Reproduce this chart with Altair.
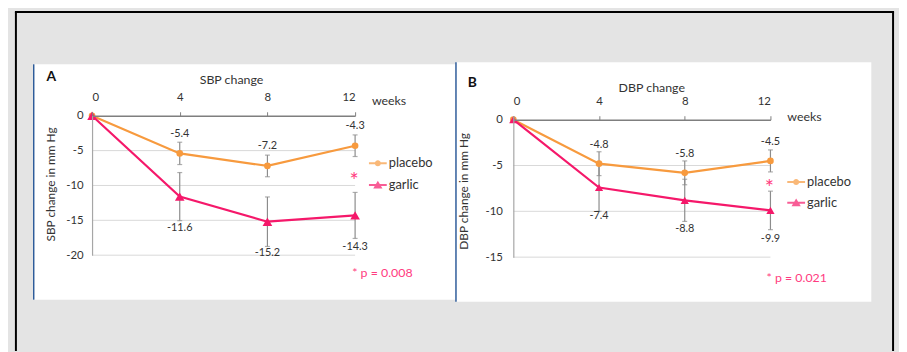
import altair as alt
import pandas as pd

# ---------------- data ----------------
weeks = [0, 4, 8, 12]
series_names = ["placebo", "garlic"]

sbp_placebo = [0, -5.4, -7.2, -4.3]
sbp_placebo_err = [0, 1.6, 1.55, 1.55]
sbp_garlic = [0, -11.6, -15.2, -14.3]
sbp_garlic_err = [0, 3.45, 3.55, 3.3]

dbp_placebo = [0, -4.8, -5.8, -4.5]
dbp_placebo_err = [0, 1.3, 1.3, 1.2]
dbp_garlic = [0, -7.4, -8.8, -9.9]
dbp_garlic_err = [0, 2.6, 2.3, 2.1]

x_ticks = [0, 4, 8, 12]
sbp_y_ticks = [0, -5, -10, -15, -20]
dbp_y_ticks = [0, -5, -10, -15]

# ---------------- style ----------------
ORANGE = "#F79A3E"
PINK = "#F5186A"
PTEXT = "#FF3B80"
ERR = "#8C8C8C"
GRID = "#D9D9D9"
AXIS = "#7F7F7F"
TXT = "#333333"
BG = "#E4E4E4"
FONT = "Lato"

LEG_CIRCLE = "M-1,-0.11H1V0.11H-1Z M0.34,0A0.34,0.34 0 1,1 -0.34,0A0.34,0.34 0 1,1 0.34,0Z"
LEG_TRI = "M-1,-0.11H1V0.11H-1Z M0,-0.47L0.52,0.4H-0.52Z"


def make_df(p, pe, g, ge):
    rows = []
    for name, vals, errs in (("placebo", p, pe), ("garlic", g, ge)):
        for w, v, e in zip(weeks, vals, errs):
            rows.append({"week": w, "series": name, "value": v, "err": e,
                         "lo": v - e, "hi": v + e})
    return pd.DataFrame(rows)


one = pd.DataFrame({"k": [0]})


def panel(df, y_ticks, y_domain, W, H, x_offset, x_label_pad, cfg, first):
    x_axis = alt.Axis(orient="top", values=x_ticks, title=None,
                      labelExpr="toString(datum.value)",
                      grid=False, domainColor=AXIS, domainWidth=1.4,
                      tickColor=AXIS, tickSize=4, labelFontSize=11.5,
                      labelColor=TXT, labelPadding=x_label_pad, offset=x_offset,
                      labelFont=FONT, zindex=2)
    y_axis = alt.Axis(values=y_ticks, title=cfg["ytitle"], grid=False,
                      labelExpr="toString(datum.value)",
                      ticks=False, domainColor="#A6A6A6", domainWidth=1.2,
                      labelFontSize=11.5, labelColor=TXT,
                      labelPadding=cfg["ylabpad"], labelFont=FONT,
                      titleFont=FONT, titleFontSize=12, titleFontWeight="normal",
                      titleColor=TXT, titleX=cfg["titleX"], titleY=cfg["titleY"],
                      titleAngle=270, titleBaseline="middle", titleAlign="center",
                      zindex=2)
    xs = alt.Scale(domain=[0, 12], nice=False, zero=False)
    ys = alt.Scale(domain=y_domain, nice=False, zero=False)

    def X():
        return alt.X("week:Q", scale=xs, axis=x_axis)

    def Y(f):
        return alt.Y(f, scale=ys, axis=y_axis)

    base = alt.Chart(df)
    layers = []
    c = cfg
    if first:
        g = alt.Chart(one)
        layers.append(g.mark_rect(fill=BG).encode(
            x=alt.value(c["bg"][0]), x2=alt.value(c["bg"][1]),
            y=alt.value(c["bg"][2]), y2=alt.value(c["bg"][3])))
        fx0, fx1, fy0, fy1 = c["frame"]
        layers.append(g.mark_rule(color="#000000", strokeWidth=2).encode(
            x=alt.value(fx0), y=alt.value(fy0), y2=alt.value(fy1)))
        layers.append(g.mark_rule(color="#000000", strokeWidth=2).encode(
            x=alt.value(fx1), y=alt.value(fy0), y2=alt.value(fy1)))
        layers.append(g.mark_rule(color="#000000", strokeWidth=2).encode(
            y=alt.value(fy0), x=alt.value(fx0 - 1), x2=alt.value(fx1 + 1)))
    g = alt.Chart(one)
    px0, px1, py0, py1 = c["panel"]
    layers.append(g.mark_rect(fill="#FFFFFF").encode(
        x=alt.value(px0), x2=alt.value(px1), y=alt.value(py0), y2=alt.value(py1)))
    layers.append(g.mark_rule(color="#2E5C9A", strokeWidth=1.5).encode(
        x=alt.value(px0), y=alt.value(py0), y2=alt.value(py1)))

    # gridlines at tick values
    grid_df = pd.DataFrame({"v": y_ticks[1:]})
    layers.append(alt.Chart(grid_df).mark_rule(color=GRID, strokeWidth=1).encode(
        y=Y("v:Q"), x=alt.value(0), x2=alt.value(W)))

    eb = base.transform_filter("datum.err > 0")
    layers.append(eb.mark_rule(color=ERR, strokeWidth=1.2).encode(
        x=X(), y=Y("lo:Q"), y2="hi:Q"))
    layers.append(eb.transform_fold(["lo", "hi"], as_=["end", "yv"]).mark_tick(
        orient="horizontal", size=5, thickness=1.2, color=ERR).encode(
        x=X(), y=Y("yv:Q")))

    for name, col, shp, size, dy in (("placebo", ORANGE, "circle", c["csize"], c["dy_p"]),
                                     ("garlic", PINK, "triangle-up", c["tsize"], c["dy_g"])):
        s = base.transform_filter(alt.datum.series == name)
        layers.append(s.mark_line(color=col, strokeWidth=2.2).encode(
            x=X(), y=Y("value:Q")))
        layers.append(s.mark_point(shape=shp, filled=True, opacity=1, color=col,
                                   size=size).encode(x=X(), y=Y("value:Q")))
        layers.append(s.transform_filter("datum.week > 0").transform_calculate(
            lbl="toString(datum.value)").mark_text(
            dy=dy, fontSize=11, font=FONT, color=TXT).encode(
            x=X(), y=Y("value:Q"), text="lbl:N"))

    g = alt.Chart(one)
    layers.append(g.mark_text(text=c["letter"], font=FONT, fontSize=14,
                              fontWeight="bold", color="#111111", align="left",
                              baseline="middle").encode(
        x=alt.value(c["letter_xy"][0]), y=alt.value(c["letter_xy"][1])))
    layers.append(g.mark_text(text=c["title"], font=FONT, fontSize=12.5,
                              color=TXT, align="center", baseline="middle").encode(
        x=alt.value(c["title_xy"][0]), y=alt.value(c["title_xy"][1])))
    layers.append(g.mark_text(text="weeks", font=FONT, fontSize=12.5,
                              color=TXT, align="left", baseline="middle").encode(
        x=alt.value(c["weeks_xy"][0]), y=alt.value(c["weeks_xy"][1])))
    layers.append(g.mark_text(text="*", font=FONT, fontSize=22,
                              color=PTEXT, align="center", baseline="middle").encode(
        x=alt.value(c["star_xy"][0]), y=alt.value(c["star_xy"][1])))
    layers.append(g.mark_text(text=c["ptext"], font=FONT, fontSize=12.5,
                              color=PTEXT, align="left", baseline="middle").encode(
        x=alt.value(c["p_xy"][0]), y=alt.value(c["p_xy"][1])))

    # legend (legend-only layer, no marks drawn)
    leg = alt.Legend(orient="none", legendX=c["leg_xy"][0], legendY=c["leg_xy"][1],
                     title=None, padding=0, offset=0, rowPadding=c["leg_rowpad"],
                     labelOffset=2, labelFontSize=13, labelFont=FONT,
                     labelColor=TXT, symbolSize=324, symbolStrokeWidth=0,
                     direction="vertical")
    layers.append(base.transform_filter("false").mark_point(filled=True, size=324).encode(
        color=alt.Color("series:N", scale=alt.Scale(domain=series_names,
                                                    range=[ORANGE, PINK]), legend=leg),
        shape=alt.Shape("series:N", scale=alt.Scale(domain=series_names,
                                                    range=[LEG_CIRCLE, LEG_TRI]), legend=leg),
    ))
    return alt.layer(*layers).properties(width=W, height=H)


cfgA = dict(ytitle="SBP change in mm Hg", ylabpad=9, titleX=-42, titleY=69,
            bg=(-84, 815, -106, 238), frame=(-77, 810, -105, 238),
            panel=(-59, 368, -52, 186), csize=45, tsize=95, dy_p=-20, dy_g=32,
            letter="A", letter_xy=(-46, -39), title="SBP change", title_xy=(141, -36),
            weeks_xy=(283, -15), star_xy=(265, 66), ptext="* p = 0.008",
            p_xy=(263, 159), leg_xy=(280, 39), leg_rowpad=6)
cfgB = dict(ytitle="DBP change in mm Hg", ylabpad=11, titleX=-50, titleY=76,
            panel=(-58, 362, -54, 188), csize=45, tsize=70, dy_p=-19, dy_g=29,
            letter="B", letter_xy=(-46, -33), title="DBP change", title_xy=(140, -28.5),
            weeks_xy=(277, 1), star_xy=(259, 73), ptext="* p = 0.021",
            p_xy=(256, 164), leg_xy=(277, 58), leg_rowpad=5)

dfA = make_df(sbp_placebo, sbp_placebo_err, sbp_garlic, sbp_garlic_err)
dfB = make_df(dbp_placebo, dbp_placebo_err, dbp_garlic, dbp_garlic_err)

A = panel(dfA, sbp_y_ticks, [-20, 0], 266, 141, 0, 9.5, cfgA, True)
B = panel(dfB, dbp_y_ticks, [-15, 0.43], 260, 143, -4, 9.5, cfgB, False)

chart = alt.hconcat(A, B, spacing=160, bounds="flush").resolve_scale(
    color="independent", shape="independent", x="independent", y="independent"
).resolve_legend(color="independent", shape="independent").properties(
    padding=0, background=BG
).configure_view(stroke=None, fill=None).configure(font=FONT)

chart.save("out.html", embed_options={"renderer": "svg", "actions": False})
